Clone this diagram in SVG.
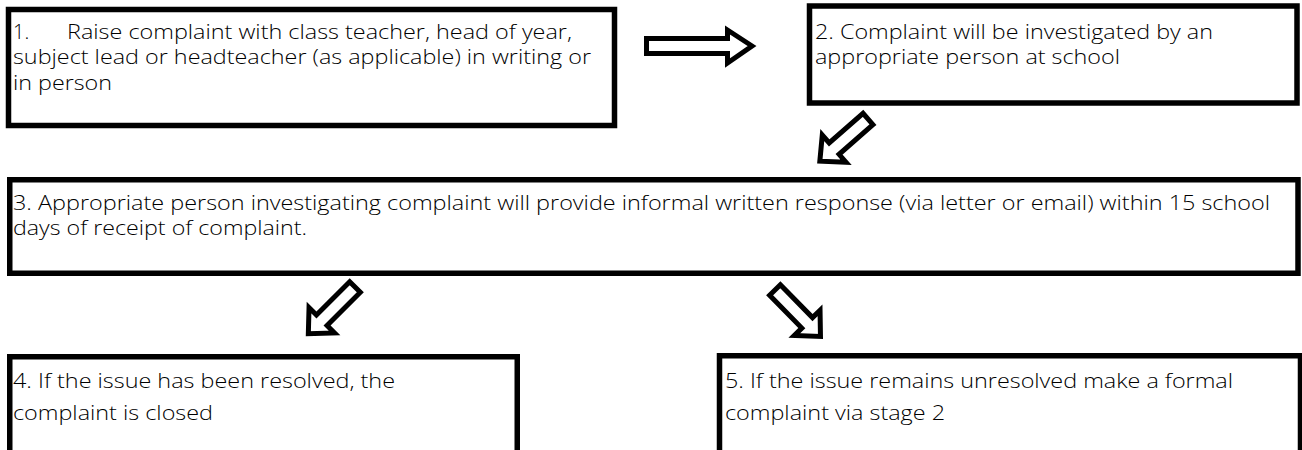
<svg xmlns="http://www.w3.org/2000/svg" width="1302" height="450" viewBox="0 0 1302 450">
<style>
.box{fill:#fff;stroke:#000;stroke-width:5.5}
.arr{fill:#fff;stroke:#000;stroke-width:5;stroke-linejoin:miter}
text{font-family:"Open Sans","Noto Sans",sans-serif;font-size:20px;font-weight:300;fill:#000}
</style>
<rect width="1302" height="450" fill="#fff"/>
<g id="node1">
<rect class="box" x="8.5" y="9.5" width="606" height="116"/>
<text x="13" y="38.5">1.</text>
<text x="67" y="38.5" textLength="505" lengthAdjust="spacingAndGlyphs">Raise complaint with class teacher, head of year,</text>
<text x="13" y="64" textLength="578" lengthAdjust="spacingAndGlyphs">subject lead or headteacher (as applicable) in writing or</text>
<text x="13" y="89.5" textLength="99" lengthAdjust="spacingAndGlyphs">in person</text>
</g>
<g id="node2">
<rect class="box" x="809.5" y="6" width="487.5" height="97"/>
<text x="815" y="38.5" textLength="398" lengthAdjust="spacingAndGlyphs">2. Complaint will be investigated by an</text>
<text x="815" y="64" textLength="305" lengthAdjust="spacingAndGlyphs">appropriate person at school</text>
</g>
<g id="node3">
<rect class="box" x="9.75" y="179.75" width="1288.25" height="93.5"/>
<text x="13" y="209.5" textLength="1257" lengthAdjust="spacingAndGlyphs">3. Appropriate person investigating complaint will provide informal written response (via letter or email) within 15 school</text>
<text x="13" y="234.5" textLength="294" lengthAdjust="spacingAndGlyphs">days of receipt of complaint.</text>
</g>
<g id="node4">
<path class="box" d="M9.75,460 V356.75 H517.25 V460"/>
<text x="13" y="387.5" textLength="382" lengthAdjust="spacingAndGlyphs">4. If the issue has been resolved, the</text>
<text x="13" y="419.5" textLength="200" lengthAdjust="spacingAndGlyphs">complaint is closed</text>
</g>
<g id="node5">
<path class="box" d="M719.5,460 V355.75 H1300.5 V460"/>
<text x="725" y="387.5" textLength="508" lengthAdjust="spacingAndGlyphs">5. If the issue remains unresolved make a formal</text>
<text x="725" y="419.5" textLength="220" lengthAdjust="spacingAndGlyphs">complaint via stage 2</text>
</g>
<g id="connectors">
<polygon class="arr" points="646.5,38.5 727.5,38.5 727.5,30 752,46 727.5,63 727.5,53.5 646.5,53.5"/>
<polygon class="arr" transform="translate(868,119) rotate(138.8)" points="0,-7.5 45,-7.5 45,-18 64,0 45,18 45,7.5 0,7.5"/>
<polygon class="arr" transform="translate(355,287) rotate(135)" points="0,-7.5 47,-7.5 47,-18 66,0 47,18 47,7.5 0,7.5"/>
<polygon class="arr" transform="translate(775,290) rotate(45.6)" points="0,-7.5 46,-7.5 46,-18 65,0 46,18 46,7.5 0,7.5"/>
</g>
</svg>
